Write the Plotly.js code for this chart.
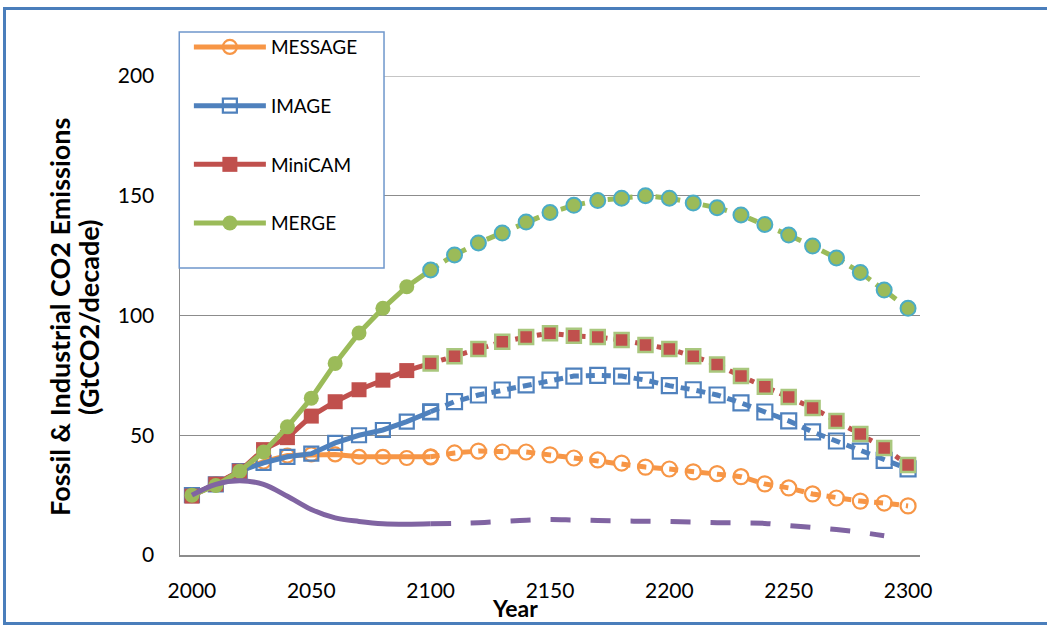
<!DOCTYPE html>
<html>
<head>
<meta charset="utf-8">
<script src="https://cdn.plot.ly/plotly-3.0.1.min.js"></script>
<style>
  html, body { margin: 0; padding: 0; background: #ffffff; overflow: hidden; }
  #chart { width: 1047px; height: 629px; }
  #frame { position: absolute; left: 3px; top: 7px; width: 1100px; height: 618px;
           border: 3px solid #4a7ebb; pointer-events: none; box-sizing: border-box; }
</style>
</head>
<body>
<div id="chart"></div>
<div id="frame"></div>
<script>
// ---- data ----
const years = [2000, 2010, 2020, 2030, 2040, 2050, 2060, 2070, 2080, 2090, 2100,
               2110, 2120, 2130, 2140, 2150, 2160, 2170, 2180, 2190, 2200,
               2210, 2220, 2230, 2240, 2250, 2260, 2270, 2280, 2290, 2300];

const message = [25, 29.5, 35, 39, 41.5, 42, 42, 41, 41, 40.5, 41,
                 42.6, 43.4, 43, 43, 41.8, 40.5, 39.7, 38.4, 36.7, 35.9,
                 34.7, 34, 32.7, 29.7, 28, 25.5, 23.8, 22.5, 21.7, 20.5];

const image = [25, 29.5, 35, 38.5, 41, 42.3, 46.8, 50, 52.2, 55.7, 59.8,
               64, 66.8, 68.9, 71, 73, 74.7, 75, 74.7, 73, 70.7,
               69, 66.8, 63.5, 59.7, 56, 51.4, 47.6, 43.4, 39.5, 36];

const minicam = [24.6, 29.6, 35, 44, 49, 58, 64, 69, 73, 77, 80,
                 83, 86, 89, 91, 92.6, 91.5, 91, 89.8, 87.7, 86,
                 83, 79.5, 74.7, 70.2, 66, 61.4, 56, 50.5, 44.7, 37.6];

const merge = [25, 29, 35, 43, 53.5, 65.5, 80, 92.7, 103, 112, 119,
               125.3, 130.3, 134.4, 139, 143, 146, 148, 149, 150, 149,
               147, 145, 142, 138, 133.6, 129, 124, 118, 110.6, 103];

const otherYears = [2000, 2010, 2020, 2030, 2040, 2050, 2060, 2070, 2080, 2090, 2100,
                    2110, 2120, 2130, 2140, 2150, 2160, 2170, 2180, 2190, 2200,
                    2210, 2220, 2230, 2240, 2250, 2260, 2270, 2280, 2290];
const other = [25, 29.5, 31, 29.5, 24.5, 19, 15.5, 14, 13, 12.8, 13,
               13.2, 13.5, 14, 14.5, 14.8, 14.6, 14.4, 14.2, 14.1, 14,
               13.8, 13.5, 13.4, 13.2, 12.3, 11.5, 10.6, 9.5, 8];

const xTicks = [2000, 2050, 2100, 2150, 2200, 2250, 2300];
const yTicks = [0, 50, 100, 150, 200];
const yTitleLines = ['Fossil & Industrial CO2 Emissions', '(GtCO2/decade)'];
const xTitle = 'Year';

// ---- split helpers: up to 2100 (solid) and from 2100 on (dashed) ----
const SPLIT = 2100;
function pre(xs, ys) {
  const x = [], y = [];
  xs.forEach((v, i) => { if (v <= SPLIT) { x.push(v); y.push(ys[i]); } });
  return {x, y};
}
function post(xs, ys) {
  const x = [], y = [];
  xs.forEach((v, i) => { if (v >= SPLIT) { x.push(v); y.push(ys[i]); } });
  return {x, y};
}

const C = { orange: '#f79646', blue: '#4f81bd', red: '#c0504d', green: '#9bbb59',
            purple: '#8064a2', teal: '#4bacc6', lightgreen: '#a9c77e', grid: '#8c8c8c' };

const traces = [];
function addModel(name, ys, color, preMarker, postMarker, dash) {
  const a = pre(years, ys), b = post(years, ys);
  traces.push({ x: a.x, y: a.y, type: 'scatter', mode: 'lines+markers', name: name,
    legendgroup: name, line: { color: color, width: 5 }, marker: preMarker,
    cliponaxis: false });
  traces.push({ x: b.x, y: b.y, type: 'scatter', mode: 'lines+markers', name: name,
    legendgroup: name, showlegend: false, line: { color: color, width: 5, dash: dash },
    marker: postMarker, cliponaxis: false });
}

addModel('MESSAGE', message, C.orange,
  { symbol: 'circle-open', size: 14, color: C.orange, line: { width: 2.2, color: C.orange } },
  { symbol: 'circle-open', size: 15, color: C.orange, line: { width: 2.2, color: C.orange } },
  '9px,7px');
addModel('IMAGE', image, C.blue,
  { symbol: 'square-open', size: 14, color: C.blue, line: { width: 2.2, color: C.blue } },
  { symbol: 'square-open', size: 15, color: C.blue, line: { width: 2.2, color: C.blue } },
  '9px,7px');
addModel('MiniCAM', minicam, C.red,
  { symbol: 'square', size: 15, color: C.red, line: { width: 0 } },
  { symbol: 'square', size: 14, color: C.red, line: { width: 2.5, color: C.lightgreen } },
  '5px,6px');
addModel('MERGE', merge, C.green,
  { symbol: 'circle', size: 15, color: C.green, line: { width: 0 } },
  { symbol: 'circle', size: 15, color: C.green, line: { width: 2, color: C.teal } },
  '9px,7px');

const pa = pre(otherYears, other), pb = post(otherYears, other);
traces.push({ x: pa.x, y: pa.y, type: 'scatter', mode: 'lines', showlegend: false,
  line: { color: C.purple, width: 5, shape: 'spline', smoothing: 1 }, hoverinfo: 'skip' });
traces.push({ x: pb.x, y: pb.y, type: 'scatter', mode: 'lines', showlegend: false,
  line: { color: C.purple, width: 5, shape: 'spline', smoothing: 1, dash: '20px,20px' }, hoverinfo: 'skip' });

const FONT = 'Lato, Carlito, Calibri, "Open Sans", sans-serif';

const layout = {
  width: 1047, height: 629,
  margin: { l: 180, r: 127, t: 76, b: 74, pad: 0 },
  paper_bgcolor: '#ffffff', plot_bgcolor: '#ffffff',
  font: { family: FONT, size: 21, color: '#000000' },
  showlegend: true,
  xaxis: {
    range: [1995, 2305], tickvals: xTicks, ticktext: xTicks.map(String),
    showgrid: false, zeroline: false, showline: true, linecolor: C.grid, linewidth: 1.5,
    ticks: '', ticklabelstandoff: 16, tickfont: { family: FONT, size: 21, color: '#000' },
    fixedrange: true
  },
  yaxis: {
    range: [0, 200], tickvals: yTicks, ticktext: yTicks.map(String),
    showgrid: true, gridcolor: C.grid, gridwidth: 1.2, zeroline: false,
    showline: true, linecolor: C.grid, linewidth: 1.5,
    ticks: '', ticklabelstandoff: 20, tickfont: { family: FONT, size: 21, color: '#000' },
    fixedrange: true
  },
  legend: {
    x: 0.012, xanchor: 'left', y: 1.1, yanchor: 'top',
    bgcolor: 'rgba(0,0,0,0)', borderwidth: 0,
    font: { family: FONT, size: 19, color: '#000' },
    itemwidth: 72, tracegroupgap: 31, traceorder: 'grouped'
  },
  shapes: [
    { type: 'line', xref: 'paper', yref: 'y', x0: 0, x1: 1, y0: yTicks[yTicks.length - 1], y1: yTicks[yTicks.length - 1],
      line: { color: C.grid, width: 1.2 }, layer: 'below' },
    { type: 'rect', xref: 'paper', yref: 'paper', x0: -0.001, x1: 0.2757, y0: 0.5992, y1: 1.0919,
      fillcolor: '#ffffff', line: { color: '#6f97cc', width: 1.5 }, layer: 'above' }
  ],
  annotations: [
    { text: '<b>' + yTitleLines[0] + '</b>',
      xref: 'paper', yref: 'paper', x: -0.1622, y: 0.497, xanchor: 'center', yanchor: 'middle',
      textangle: -90, showarrow: false, font: { family: FONT, size: 27, color: '#000' } },
    { text: '<b>' + yTitleLines[1] + '</b>',
      xref: 'paper', yref: 'paper', x: -0.1230, y: 0.497, xanchor: 'center', yanchor: 'middle',
      textangle: -90, showarrow: false, font: { family: FONT, size: 27, color: '#000' } },
    { text: '<b>' + xTitle + '</b>', xref: 'paper', yref: 'paper', x: 0.4527, y: -0.1106,
      xanchor: 'center', yanchor: 'middle', showarrow: false,
      font: { family: FONT, size: 23, color: '#000' } }
  ]
};

Plotly.newPlot('chart', traces, layout, { staticPlot: true, displayModeBar: false });
</script>
</body>
</html>
